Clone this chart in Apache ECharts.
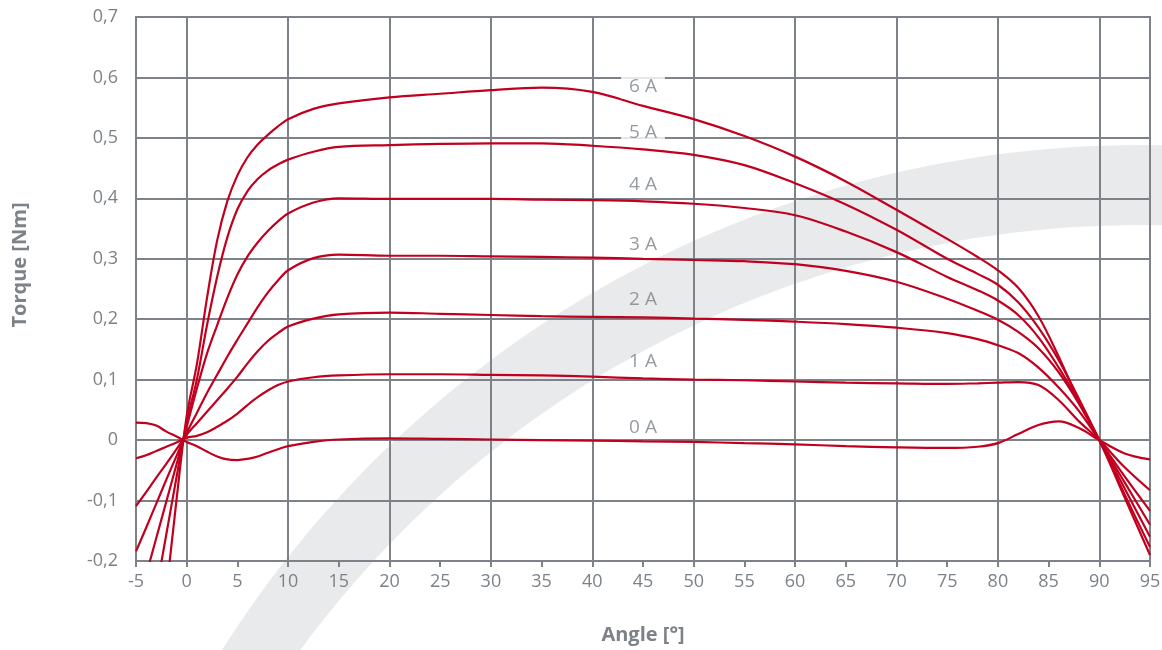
<!DOCTYPE html>
<html><head><meta charset="utf-8">
<script src="https://cdn.jsdelivr.net/npm/echarts@6/dist/echarts.min.js"></script>
<style>html,body{margin:0;padding:0;background:#fff}#c{width:1162px;height:650px}</style>
</head><body><div id="c"></div>
<script>
// ---- data (angle in degrees, torque in Nm) ----
const angles = [-5, -4, -3, -2, -1, 0, 1, 2, 3, 4, 5, 6, 7, 8, 9, 10, 12.5, 15, 20, 25, 30, 35, 40, 45, 50, 55, 60, 65, 70, 75, 78, 80, 82, 84, 86, 88, 90, 92.5, 95];

const torque0A = [0.029, 0.028, 0.024, 0.014, 0.006, -0.003, -0.01, -0.019, -0.027, -0.032, -0.033, -0.031, -0.027, -0.021, -0.015, -0.01, -0.003, 0.001, 0.003, 0.002, 0.001, 0, -0.001, -0.002, -0.003, -0.005, -0.007, -0.01, -0.012, -0.013, -0.011, -0.005, 0.01, 0.025, 0.031, 0.02, 0, -0.022, -0.032];
const torque1A = [-0.030, -0.025, -0.018, -0.011, -0.004, 0.004, 0.007, 0.013, 0.022, 0.032, 0.044, 0.058, 0.071, 0.082, 0.091, 0.097, 0.104, 0.107, 0.109, 0.109, 0.108, 0.107, 0.105, 0.102, 0.1, 0.099, 0.097, 0.095, 0.094, 0.093, 0.094, 0.095, 0.096, 0.091, 0.066, 0.031, 0, -0.045, -0.083];
const torque2A = [-0.109, -0.086, -0.062, -0.039, -0.015, 0.009, 0.028, 0.047, 0.066, 0.085, 0.105, 0.127, 0.147, 0.164, 0.177, 0.188, 0.201, 0.208, 0.211, 0.209, 0.207, 0.205, 0.204, 0.203, 0.201, 0.199, 0.196, 0.192, 0.186, 0.177, 0.167, 0.157, 0.144, 0.12, 0.087, 0.048, 0, -0.06, -0.117];
const torque3A = [-0.184, -0.145, -0.105, -0.065, -0.026, 0.012, 0.045, 0.078, 0.108, 0.138, 0.166, 0.193, 0.22, 0.244, 0.264, 0.281, 0.301, 0.307, 0.305, 0.305, 0.304, 0.303, 0.302, 0.3, 0.298, 0.296, 0.291, 0.28, 0.262, 0.234, 0.214, 0.199, 0.179, 0.152, 0.112, 0.06, 0, -0.07, -0.14];
const torque4A = [-0.284, -0.223, -0.162, -0.101, -0.04, 0.022, 0.085, 0.143, 0.19, 0.235, 0.274, 0.304, 0.327, 0.346, 0.362, 0.375, 0.393, 0.4, 0.399, 0.399, 0.399, 0.398, 0.397, 0.395, 0.391, 0.384, 0.372, 0.345, 0.311, 0.27, 0.248, 0.231, 0.207, 0.17, 0.12, 0.063, 0, -0.08, -0.16];
const torque5A = [-0.437, -0.343, -0.249, -0.155, -0.061, 0.03, 0.1, 0.19, 0.27, 0.335, 0.382, 0.412, 0.432, 0.446, 0.456, 0.464, 0.477, 0.485, 0.488, 0.49, 0.491, 0.491, 0.487, 0.481, 0.472, 0.455, 0.425, 0.39, 0.348, 0.3, 0.275, 0.257, 0.228, 0.186, 0.132, 0.068, 0, -0.09, -0.177];
const torque6A = [-0.70, -0.55, -0.40, -0.25, -0.098, 0.04, 0.125, 0.235, 0.33, 0.395, 0.438, 0.468, 0.489, 0.505, 0.519, 0.531, 0.548, 0.557, 0.567, 0.573, 0.579, 0.583, 0.576, 0.553, 0.531, 0.503, 0.469, 0.428, 0.381, 0.333, 0.303, 0.281, 0.252, 0.205, 0.138, 0.064, 0, -0.095, -0.19];

const currentLabels = ['0 A', '1 A', '2 A', '3 A', '4 A', '5 A', '6 A'];
const curveTorques = [torque0A, torque1A, torque2A, torque3A, torque4A, torque5A, torque6A];
const labelAngle = [45, 45, 45, 45, 45, 45, 45];
const labelTorque = [0.02, 0.13, 0.232, 0.324, 0.422, 0.508, 0.585];

// ---- style ----
const GRAY = '#7c8288';
const RED = '#c1001f';
const BAND = '#e9eaec';
const FONT = '"Open Sans", "Noto Sans", sans-serif';

// decorative background band (two non-concentric arcs)
function bandPoints() {
  const pts = [];
  const oc = [1140, 1232], R = 1087, ic = [1140, 1267], r = 1042;
  for (let t = 150; t >= 84; t -= 1) {
    const a = t * Math.PI / 180;
    pts.push([oc[0] + R * Math.cos(a), oc[1] - R * Math.sin(a)]);
  }
  for (let t = 84; t <= 148; t += 1) {
    const a = t * Math.PI / 180;
    pts.push([ic[0] + r * Math.cos(a), ic[1] - r * Math.sin(a)]);
  }
  return pts;
}

const chart = echarts.init(document.getElementById('c'), null, {renderer: 'canvas'});

const lineSeries = curveTorques.map((ts, i) => ({
  type: 'line',
  name: currentLabels[i],
  data: angles.map((x, j) => [x, ts[j]]),
  smooth: 0.35,
  symbol: 'none',
  showSymbol: false,
  clip: true,
  lineStyle: {color: RED, width: 2.2},
  z: 3,
  silent: true
}));

const labelSeries = {
  type: 'scatter',
  data: labelTorque.map((v, i) => ({
    value: [labelAngle[i], v, currentLabels[i]],
    label: i >= 5 ? {backgroundColor: '#ffffff'} : {}
  })),
  symbolSize: 1,
  itemStyle: {color: 'rgba(0,0,0,0)'},
  label: {
    show: true, position: 'inside',
    formatter: p => p.data.value[2],
    color: GRAY, fontSize: 19, fontFamily: FONT,
    padding: [3, 8, 2, 8]
  },
  z: 5,
  silent: true
};

chart.setOption({
  animation: false,
  backgroundColor: '#ffffff',
  graphic: [{
    type: 'polygon', z: -10, silent: true,
    shape: {points: bandPoints()},
    style: {fill: BAND}
  }],
  grid: {
    left: 136, right: 12, top: 17, bottom: 89,
    containLabel: false, outerBoundsMode: 'none',
    show: true, borderColor: GRAY, borderWidth: 2, backgroundColor: 'rgba(0,0,0,0)'
  },
  xAxis: {
    type: 'value', min: -5, max: 95, interval: 5,
    axisLine: {show: true, onZero: false, lineStyle: {color: GRAY, width: 2}},
    axisTick: {show: true, length: 6, lineStyle: {color: GRAY, width: 2}},
    axisLabel: {color: GRAY, fontSize: 18, fontFamily: FONT, margin: 12},
    splitLine: {show: true, lineStyle: {color: ['rgba(0,0,0,0)', GRAY], width: 2}},
    name: 'Angle [°]', nameLocation: 'middle', nameGap: 64,
    nameTextStyle: {color: GRAY, fontSize: 20, fontWeight: 'bold', fontFamily: FONT}
  },
  yAxis: {
    type: 'value', min: -0.2, max: 0.7, interval: 0.1,
    axisLine: {show: true, lineStyle: {color: GRAY, width: 2}},
    axisTick: {show: true, length: 6, lineStyle: {color: GRAY, width: 2}},
    axisLabel: {
      color: GRAY, fontSize: 18, fontFamily: FONT, margin: 18,
      formatter: v => {
        const q = Math.round(v * 10) / 10;
        return q === 0 ? '0' : q.toFixed(1).replace('.', ',');
      }
    },
    splitLine: {show: true, lineStyle: {color: GRAY, width: 2}},
    name: 'Torque [Nm]', nameLocation: 'middle', nameGap: 106, nameRotate: 90,
    nameTextStyle: {color: GRAY, fontSize: 20, fontWeight: 'bold', fontFamily: FONT, padding: [0, 0, 0, 48]}
  },
  series: [...lineSeries, labelSeries]
});
</script>
</body></html>
